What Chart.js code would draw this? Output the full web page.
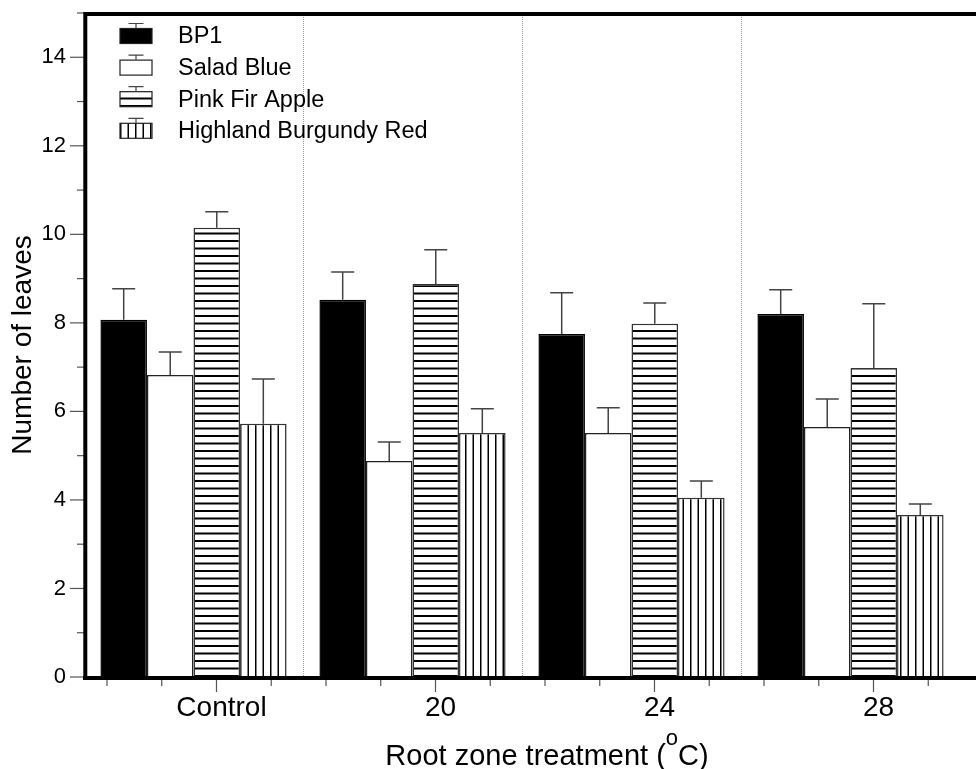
<!DOCTYPE html>
<html>
<head>
<meta charset="utf-8">
<script src="https://cdn.jsdelivr.net/npm/chart.js@4/dist/chart.umd.min.js"></script>
<style>
  html, body { margin: 0; padding: 0; background: #fff; }
  #wrap { width: 976px; height: 769px; }
</style>
</head>
<body>
<div id="wrap"><canvas id="leaves"></canvas></div>
<script>
const treatments = ['Control', '20', '24', '28'];
const varieties = ['BP1', 'Salad Blue', 'Pink Fir Apple', 'Highland Burgundy Red'];

// mean number of leaves per variety, one value per root zone treatment
const bp1 = [8.07, 8.52, 7.75, 8.20];
const saladBlue = [6.82, 4.88, 5.51, 5.65];
const pinkFirApple = [10.15, 8.88, 7.98, 6.98];
const highlandRed = [5.72, 5.51, 4.05, 3.66];

// standard errors (drawn upward only)
const bp1Err = [0.70, 0.63, 0.93, 0.55];
const saladBlueErr = [0.52, 0.43, 0.57, 0.63];
const pinkFirAppleErr = [0.36, 0.77, 0.47, 1.45];
const highlandRedErr = [1.01, 0.55, 0.38, 0.25];

const FONT = '"Liberation Sans", Arial, sans-serif';

function stripes(horizontal) {
  const tile = document.createElement('canvas');
  tile.width = 15;
  tile.height = 15;
  const g = tile.getContext('2d');
  g.fillStyle = '#fff';
  g.fillRect(0, 0, 15, 15);
  g.fillStyle = '#000';
  if (horizontal) {
    g.fillRect(0, 0, 15, 2);
    g.fillRect(0, 7.5, 15, 2);
  } else {
    g.fillRect(0, 0, 1.5, 15);
    g.fillRect(7.5, 0, 1.5, 15);
  }
  return g.createPattern(tile, 'repeat');
}

const errorBars = {
  id: 'errorBars',
  afterDatasetsDraw(chart) {
    const ctx = chart.ctx;
    const ys = chart.scales.y;
    ctx.save();
    ctx.strokeStyle = '#444';
    ctx.lineWidth = 1.5;
    chart.data.datasets.forEach((ds, d) => {
      chart.getDatasetMeta(d).data.forEach((bar, i) => {
        const top = ys.getPixelForValue(ds.data[i] + ds.errors[i]);
        ctx.beginPath();
        ctx.moveTo(bar.x, bar.y);
        ctx.lineTo(bar.x, top);
        ctx.moveTo(bar.x - 11.5, top);
        ctx.lineTo(bar.x + 11.5, top);
        ctx.stroke();
      });
    });
    ctx.restore();
  }
};

// dotted separators between treatment groups
const separators = {
  id: 'separators',
  beforeDatasetsDraw(chart) {
    const { ctx, chartArea } = chart;
    const xs = chart.scales.x;
    ctx.save();
    ctx.strokeStyle = '#999';
    ctx.lineWidth = 1;
    ctx.setLineDash([1, 1]);
    for (let i = 0; i < treatments.length - 1; i++) {
      const px = Math.round(xs.getPixelForValue(i + 0.5)) + 0.5;
      ctx.beginPath();
      ctx.moveTo(px, chartArea.top);
      ctx.lineTo(px, chartArea.bottom);
      ctx.stroke();
    }
    ctx.restore();
  }
};

// heavy frame plus major/minor tick marks on both axes
const frame = {
  id: 'frame',
  afterDatasetsDraw(chart) {
    const { ctx, chartArea, width } = chart;
    const xs = chart.scales.x;
    const ys = chart.scales.y;
    const { left, top, bottom } = chartArea;
    ctx.save();
    ctx.strokeStyle = '#555';
    ctx.lineWidth = 1.2;
    for (let v = 0; v <= 15; v++) {
      const py = ys.getPixelForValue(v);
      const len = v % 2 === 0 ? 14 : 7;
      ctx.beginPath();
      ctx.moveTo(left - len, py);
      ctx.lineTo(left, py);
      ctx.stroke();
    }
    for (let i = 0; i < treatments.length; i++) {
      for (let k = 0; k < 4; k++) {
        const px = xs.getPixelForValue(i - 0.395 + 0.25 * k);
        const len = k === 2 ? 13 : 7;
        ctx.beginPath();
        ctx.moveTo(px, bottom + 2);
        ctx.lineTo(px, bottom + 2 + len);
        ctx.stroke();
      }
    }
    ctx.strokeStyle = '#000';
    ctx.lineWidth = 4;
    ctx.beginPath();
    ctx.moveTo(width, top + 1);
    ctx.lineTo(left + 1.3, top + 1);
    ctx.lineTo(left + 1.3, bottom + 3);
    ctx.moveTo(left - 1, bottom + 1);
    ctx.lineTo(width, bottom + 1);
    ctx.stroke();
    ctx.restore();
  }
};

const insideLegend = {
  id: 'insideLegend',
  afterDraw(chart) {
    const { ctx, chartArea } = chart;
    const bx = chartArea.left + 36;
    ctx.save();
    ctx.font = '23.5px ' + FONT;
    ctx.textBaseline = 'middle';
    chart.data.datasets.forEach((ds, d) => {
      const cy = chartArea.top + 23 + d * 31.6;
      ctx.fillStyle = ds.backgroundColor;
      ctx.fillRect(bx, cy - 7.5, 32, 15);
      ctx.strokeStyle = '#222';
      ctx.lineWidth = 1.2;
      ctx.strokeRect(bx, cy - 7.5, 32, 15);
      ctx.strokeStyle = '#444';
      ctx.beginPath();
      ctx.moveTo(bx + 16, cy - 7.5);
      ctx.lineTo(bx + 16, cy - 12.5);
      ctx.moveTo(bx + 8.5, cy - 12.5);
      ctx.lineTo(bx + 23.5, cy - 12.5);
      ctx.stroke();
      ctx.fillStyle = '#000';
      ctx.fillText(ds.label, bx + 58, cy + 1);
    });
    ctx.restore();
  }
};

// x title with a raised "o" for degrees
const xTitle = {
  id: 'xTitle',
  afterDraw(chart) {
    const { ctx, chartArea, height } = chart;
    const head = 'Root zone treatment (';
    const sup = 'o';
    const tail = 'C)';
    const baseFont = '29px ' + FONT;
    const supFont = '22px ' + FONT;
    ctx.save();
    ctx.fillStyle = '#000';
    ctx.textBaseline = 'alphabetic';
    ctx.font = baseFont;
    const wHead = ctx.measureText(head).width;
    const wTail = ctx.measureText(tail).width;
    ctx.font = supFont;
    const wSup = ctx.measureText(sup).width;
    const total = wHead + wSup + wTail;
    let x = (chartArea.left + chartArea.right) / 2 + 25 - total / 2;
    const base = height - 4;
    ctx.font = baseFont;
    ctx.fillText(head, x, base);
    x += wHead;
    ctx.font = supFont;
    ctx.fillText(sup, x, base - 20);
    x += wSup;
    ctx.font = baseFont;
    ctx.fillText(tail, x, base);
    ctx.restore();
  }
};

new Chart(document.getElementById('leaves'), {
  type: 'bar',
  data: {
    labels: treatments,
    datasets: [
      { label: varieties[0], data: bp1, errors: bp1Err, backgroundColor: '#000', borderColor: '#000' },
      { label: varieties[1], data: saladBlue, errors: saladBlueErr, backgroundColor: '#fff', borderColor: '#222' },
      { label: varieties[2], data: pinkFirApple, errors: pinkFirAppleErr, backgroundColor: stripes(true), borderColor: '#333' },
      { label: varieties[3], data: highlandRed, errors: highlandRedErr, backgroundColor: stripes(false), borderColor: '#333' }
    ]
  },
  options: {
    responsive: true,
    maintainAspectRatio: false,
    animation: false,
    layout: { padding: { top: 13, right: 16, left: 0, bottom: 0 } },
    datasets: {
      bar: { borderWidth: 1.5, barPercentage: 1, categoryPercentage: 0.85 }
    },
    plugins: {
      legend: { display: false },
      tooltip: { enabled: false }
    },
    scales: {
      x: {
        grid: { display: false, drawTicks: false },
        border: { display: false },
        ticks: {
          color: '#000',
          font: { family: FONT, size: 28 },
          padding: 14,
          labelOffset: 28,
          maxRotation: 0
        },
        afterFit(scale) {
          scale.height = 92;
          scale.paddingLeft = 0;
          scale.paddingRight = 0;
        }
      },
      y: {
        min: 0,
        max: 15,
        grid: { display: false, drawTicks: false },
        border: { display: false },
        ticks: {
          stepSize: 2,
          color: '#000',
          font: { family: FONT, size: 22 },
          padding: 18,
          callback: v => (v % 2 === 0 && v < 15 ? v : '')
        },
        title: {
          display: true,
          text: 'Number of leaves',
          color: '#000',
          font: { family: FONT, size: 28 },
          padding: { top: 6, bottom: 0 }
        },
        afterFit(scale) {
          scale.width = 84;
          scale.paddingTop = 0;
          scale.paddingBottom = 0;
        }
      }
    }
  },
  plugins: [separators, errorBars, frame, insideLegend, xTitle]
});
</script>
</body>
</html>
